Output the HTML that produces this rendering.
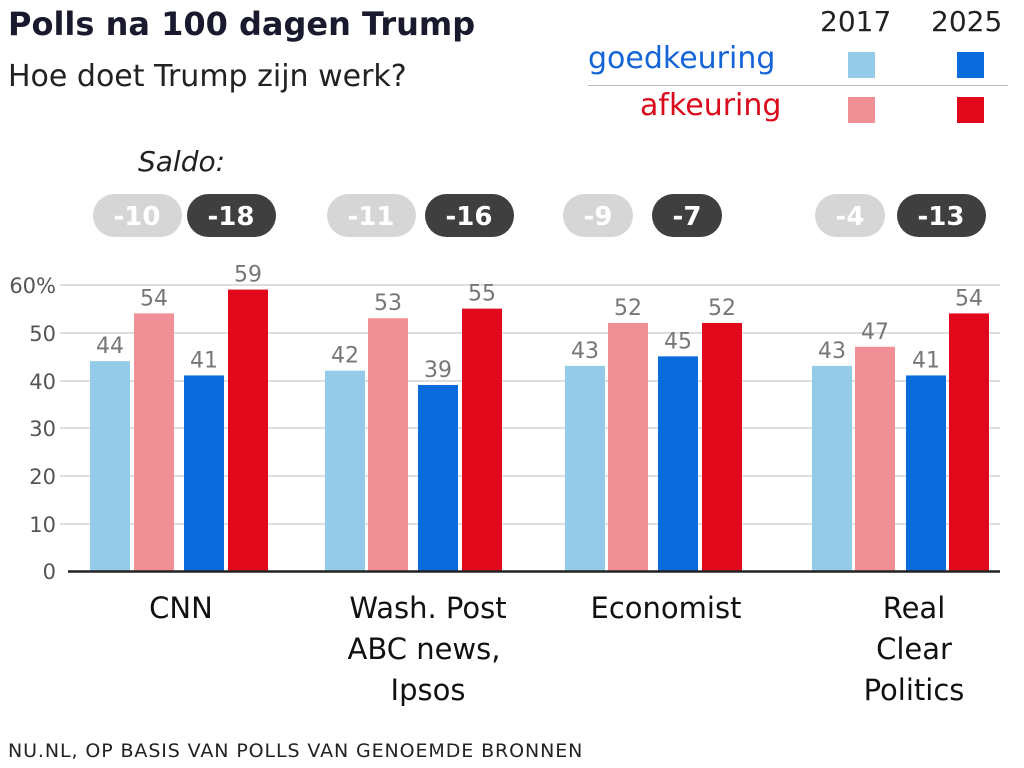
<!DOCTYPE html>
<html><head><meta charset="utf-8"><style>
body{margin:0;width:1024px;height:768px;background:#fff;font-family:"DejaVu Sans","Liberation Sans",sans-serif;overflow:hidden;position:relative}
.a{position:absolute;white-space:nowrap}
</style></head><body>
<div class="a" style="left:8px;top:5px;font-size:32px;font-weight:bold;color:#1a1a2e">Polls na 100 dagen Trump</div>
<div class="a" style="left:8px;top:59px;font-size:30px;color:#222">Hoe doet Trump zijn werk?</div>
<div class="a" style="left:820px;top:5px;font-size:28px;color:#222">2017</div>
<div class="a" style="left:931px;top:5px;font-size:28px;color:#222">2025</div>
<div class="a" style="left:588px;top:41px;font-size:30px;color:#1565d8">goedkeuring</div>
<div class="a" style="left:640px;top:88px;font-size:30px;color:#d90b1c">afkeuring</div>
<div class="a" style="left:588px;top:85px;width:420px;height:1px;background:#bbb"></div>
<div class="a" style="left:848px;top:52px;width:27px;height:26px;background:#93cbe9"></div>
<div class="a" style="left:957px;top:52px;width:27px;height:26px;background:#0a6bdc"></div>
<div class="a" style="left:848px;top:97px;width:27px;height:26px;background:#f08f95"></div>
<div class="a" style="left:957px;top:97px;width:27px;height:26px;background:#e0081a"></div>
<div class="a" style="left:138px;top:145px;font-size:28px;font-style:italic;color:#222">Saldo:</div>
<svg class="a" style="left:0;top:0" width="1024" height="768" font-family="DejaVu Sans, Liberation Sans, sans-serif">
<g font-size="26" font-weight="bold" fill="#fff" text-anchor="middle">
<rect x="93" y="194" width="89" height="43" rx="21.5" fill="#d6d6d6"/><text x="137" y="225">-10</text>
<rect x="187" y="194" width="89" height="43" rx="21.5" fill="#3f3f3f"/><text x="231" y="225">-18</text>
<rect x="327" y="194" width="89" height="43" rx="21.5" fill="#d6d6d6"/><text x="371" y="225">-11</text>
<rect x="425" y="194" width="89" height="43" rx="21.5" fill="#3f3f3f"/><text x="469" y="225">-16</text>
<rect x="563" y="194" width="70" height="43" rx="21.5" fill="#d6d6d6"/><text x="598" y="225">-9</text>
<rect x="652" y="194" width="70" height="43" rx="21.5" fill="#3f3f3f"/><text x="687" y="225">-7</text>
<rect x="815" y="194" width="70" height="43" rx="21.5" fill="#d6d6d6"/><text x="850" y="225">-4</text>
<rect x="897" y="194" width="89" height="43" rx="21.5" fill="#3f3f3f"/><text x="941" y="225">-13</text>
</g>
<g stroke="#d4d4d4" stroke-width="1.5">
<line x1="60" y1="285" x2="1000" y2="285"/><line x1="60" y1="333" x2="1000" y2="333"/><line x1="60" y1="381" x2="1000" y2="381"/><line x1="60" y1="428" x2="1000" y2="428"/><line x1="60" y1="476" x2="1000" y2="476"/><line x1="60" y1="524" x2="1000" y2="524"/>
</g>
<g font-size="21" fill="#555" text-anchor="end">
<text x="56" y="293">60%</text><text x="56" y="341">50</text><text x="56" y="389">40</text><text x="56" y="436">30</text><text x="56" y="484">20</text><text x="56" y="532">10</text><text x="56" y="579">0</text>
</g>
<g id="bars"></g>
<line x1="68" y1="571.5" x2="1000" y2="571.5" stroke="#222" stroke-width="2.5"/>
<g font-size="29" fill="#111" text-anchor="middle">
<text x="181" y="618">CNN</text>
<text x="428" y="618">Wash. Post</text><text x="424" y="659">ABC news,</text><text x="428" y="700">Ipsos</text>
<text x="666" y="618">Economist</text>
<text x="914" y="618">Real</text><text x="914" y="659">Clear</text><text x="914" y="700">Politics</text>
</g>
<text x="8" y="757" font-size="19" letter-spacing="0.9" fill="#222">NU.NL, OP BASIS VAN POLLS VAN GENOEMDE BRONNEN</text>
</svg>
<script>
var g=document.getElementById('bars'),ns='http://www.w3.org/2000/svg';
var cols=['#93cbe9','#f08f95','#0a6bdc','#e0081a'];
var groups=[[90,134,184,228,[44,54,41,59]],[325,368,418,462,[42,53,39,55]],[565,608,658,702,[43,52,45,52]],[812,855,906,949,[43,47,41,54]]];
groups.forEach(function(gr){for(var i=0;i<4;i++){var v=gr[4][i],h=v*4.77,x=gr[i];
var r=document.createElementNS(ns,'rect');r.setAttribute('x',x);r.setAttribute('y',571-h);r.setAttribute('width',40);r.setAttribute('height',h);r.setAttribute('fill',cols[i]);g.appendChild(r);
var t=document.createElementNS(ns,'text');t.setAttribute('x',x+20);t.setAttribute('y',571-h-8);t.setAttribute('text-anchor','middle');t.setAttribute('font-size','22');t.setAttribute('fill','#777');t.textContent=v;g.appendChild(t);}});
</script>
</body></html>
